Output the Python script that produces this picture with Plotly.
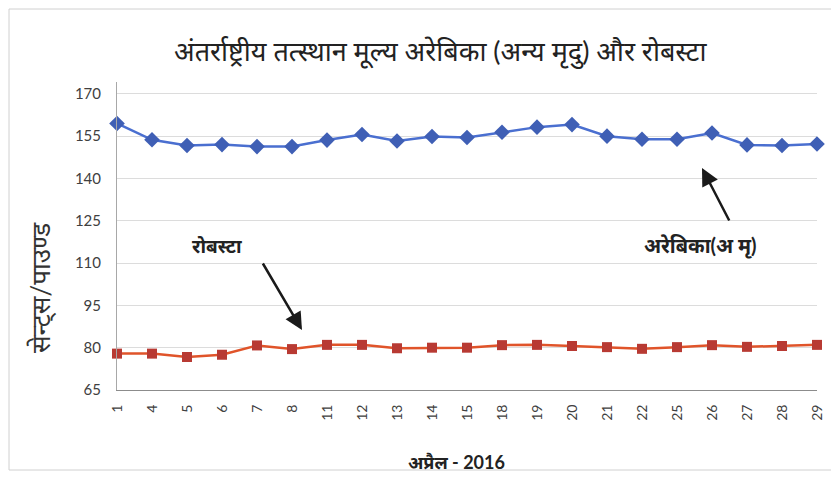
import plotly.graph_objects as go

days = ["1", "4", "5", "6", "7", "8", "11", "12", "13", "14", "15",
        "18", "19", "20", "21", "22", "25", "26", "27", "28", "29"]
arabica = [159.5, 153.7, 151.7, 152.0, 151.3, 151.3, 153.6, 155.6, 153.3, 154.9, 154.5,
           156.4, 158.2, 159.1, 155.0, 153.9, 153.9, 156.1, 151.9, 151.7, 152.2]
robusta = [77.9, 77.9, 76.7, 77.5, 80.8, 79.5, 81.0, 81.0, 79.8, 80.0, 80.0,
           80.9, 81.0, 80.6, 80.2, 79.6, 80.2, 80.9, 80.3, 80.6, 81.0]
y_ticks = [65, 80, 95, 110, 125, 140, 155, 170]

title = "अंतर्राष्ट्रीय तत्स्थान मूल्य अरेबिका (अन्य मृदु) और रोबस्टा"
y_title = "सेन्ट्स/पाउण्ड"
x_title = "अप्रैल - 2016"
label_rob = "रोबस्टा"
label_ara = "अरेबिका(अ मृ)"

# page has an 8px body margin: figure drawn from (8, 8)
O = 8
FW, FH = 839 - O, 477 - O

fig = go.Figure()
fig.add_trace(go.Scatter(
    x=days, y=arabica, mode="lines+markers", name="अरेबिका",
    line=dict(color="#4A6FD0", width=2.5),
    marker=dict(symbol="diamond", size=12, color="#3F5FB5"),
    cliponaxis=False))
fig.add_trace(go.Scatter(
    x=days, y=robusta, mode="lines+markers", name="रोबस्टा",
    line=dict(color="#E0542A", width=2.5),
    marker=dict(symbol="square", size=10, color="#B83A33"),
    cliponaxis=False))

# target plot area in screen pixels
PL, PR, PT, PB = 117, 817, 82, 390
L, T = PL - O, PT - O
R, B = FW - (PR - O), FH - (PB - O)
W, H = PR - PL, PB - PT

def px(x):
    return (x - PL) / W

def py(y):
    return (PB - y) / H

fig.update_layout(
    width=FW, height=FH,
    margin=dict(l=L, r=R, t=T, b=B),
    paper_bgcolor="white", plot_bgcolor="white",
    showlegend=False,
    font=dict(family="Lato, Noto Sans, sans-serif", color="#404040"),
    xaxis=dict(
        type="category", range=[0, len(days) - 1],
        tickangle=-90, tickfont=dict(size=14, color="#404040"),
        ticklabelstandoff=8,
        showgrid=False, showline=True, linecolor="#8C8C8C", linewidth=1,
        ticks="", zeroline=False),
    yaxis=dict(
        range=[65, 174.2], tickvals=y_ticks, ticktext=[str(v) for v in y_ticks],
        tickfont=dict(size=15, color="#404040"),
        ticklabelstandoff=12,
        showgrid=True, gridcolor="#DCDCDC", gridwidth=1,
        showline=True, linecolor="#A8A8A8", linewidth=1,
        ticks="", zeroline=False),
    annotations=[
        dict(text=title, x=px(440), y=py(51), xref="paper", yref="paper",
             xanchor="center", yanchor="middle",
             showarrow=False, font=dict(size=27, color="#222222")),
        dict(text=y_title, x=px(40), y=py(288), xref="paper", yref="paper",
             xanchor="center", yanchor="middle",
             showarrow=False, textangle=-90, font=dict(size=26, color="#333333")),
        dict(text="<b>" + x_title + "</b>", x=px(456), y=py(462), xref="paper", yref="paper",
             xanchor="center", yanchor="middle",
             showarrow=False, font=dict(size=18, color="#222222")),
        dict(text="<b>" + label_rob + "</b>", x=px(217), y=py(245), xref="paper", yref="paper",
             xanchor="center", yanchor="middle",
             showarrow=False, font=dict(size=19, color="#222222")),
        dict(text="<b>" + label_ara + "</b>", x=px(700), y=py(246), xref="paper", yref="paper",
             xanchor="center", yanchor="middle",
             showarrow=False, font=dict(size=20, color="#222222")),
        dict(text="", x=px(302), y=py(330), xref="paper", yref="paper",
             ax=-40, ay=-68, showarrow=True, arrowhead=2, arrowsize=1.4,
             arrowwidth=2.5, arrowcolor="#1A1A1A"),
        dict(text="", x=px(702), y=py(168), xref="paper", yref="paper",
             ax=28, ay=54, showarrow=True, arrowhead=2, arrowsize=1.4,
             arrowwidth=2.5, arrowcolor="#1A1A1A"),
    ],
    shapes=[
        dict(type="rect", xref="paper", yref="paper",
             x0=px(9), x1=px(836), y0=py(470), y1=py(9),
             line=dict(color="#D0D0D0", width=1), fillcolor="rgba(0,0,0,0)",
             layer="below"),
    ],
)

fig.write_html("out.html")
